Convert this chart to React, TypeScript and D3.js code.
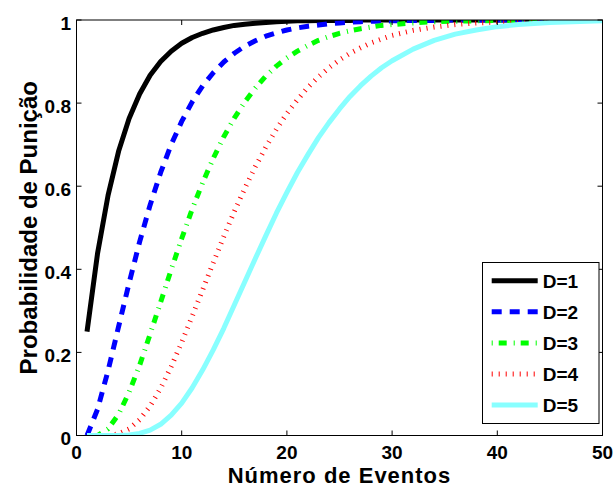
import React from "react";
import * as d3 from "d3";

// número de eventos (eixo x)
const eventos = [
  1, 2, 3, 4, 5, 6, 7, 8, 9, 10, 11, 12, 13, 14, 15, 16, 17, 18, 19, 20,
  21, 22, 23, 24, 25, 26, 27, 28, 29, 30, 32, 34, 36, 38, 40, 42, 45, 50,
];

const d1 = [
  0.25, 0.438, 0.578, 0.684, 0.763, 0.822, 0.867, 0.9, 0.925, 0.944, 0.958, 0.968, 0.976, 0.982, 0.987, 0.99, 0.992, 0.994, 0.996, 0.997,
  0.998, 0.998, 0.999, 0.999, 0.999, 0.999, 1, 1, 1, 1, 1, 1, 1, 1, 1, 1, 1, 1,
];
const d2 = [
  0, 0.063, 0.156, 0.262, 0.367, 0.466, 0.555, 0.633, 0.7, 0.756, 0.803, 0.842, 0.873, 0.899, 0.92, 0.937, 0.95, 0.961, 0.969, 0.976,
  0.981, 0.985, 0.988, 0.991, 0.993, 0.995, 0.996, 0.997, 0.997, 0.998, 0.999, 0.999, 1, 1, 1, 1, 1, 1,
];
const d3v = [
  0, 0, 0.016, 0.051, 0.104, 0.169, 0.244, 0.321, 0.399, 0.474, 0.545, 0.609, 0.667, 0.719, 0.764, 0.803, 0.836, 0.865, 0.889, 0.909,
  0.925, 0.939, 0.951, 0.96, 0.968, 0.974, 0.979, 0.983, 0.987, 0.989, 0.993, 0.996, 0.997, 0.998, 0.999, 0.999, 1, 1,
];
const d4 = [
  0, 0, 0, 0.004, 0.016, 0.038, 0.071, 0.114, 0.166, 0.224, 0.287, 0.351, 0.416, 0.479, 0.539, 0.595, 0.647, 0.694, 0.737, 0.775,
  0.808, 0.838, 0.863, 0.885, 0.904, 0.92, 0.933, 0.945, 0.954, 0.963, 0.975, 0.983, 0.989, 0.993, 0.995, 0.997, 0.998, 1,
];
const d5 = [
  0, 0, 0, 0, 0.001, 0.005, 0.013, 0.027, 0.049, 0.078, 0.115, 0.158, 0.206, 0.258, 0.314, 0.37, 0.426, 0.481, 0.535, 0.585,
  0.633, 0.676, 0.717, 0.753, 0.786, 0.816, 0.842, 0.865, 0.885, 0.902, 0.93, 0.951, 0.966, 0.976, 0.984, 0.989, 0.994, 0.998,
];

const nomes = ["D=1", "D=2", "D=3", "D=4", "D=5"];
const xTicks = [0, 10, 20, 30, 40, 50];
const yTicks = [0, 0.2, 0.4, 0.6, 0.8, 1];

const estilos = [
  { cor: "#000000", dash: null },
  { cor: "#0000ff", dash: "10 8" },
  { cor: "#00ff00", dash: "1 6 8 7" },
  { cor: "#ff0000", dash: "1 6" },
  { cor: "#88ffff", dash: null },
];

const W = 614;
const H = 488;
const left = 76.5, right = 602.5, top = 20, bottom = 435.5;
const font = "'Liberation Sans', Arial, Helvetica, sans-serif";

export default function App() {
  const x = d3.scaleLinear().domain([0, 50]).range([left, right]);
  const y = d3.scaleLinear().domain([0, 1]).range([bottom, top]);
  const series = [d1, d2, d3v, d4, d5];

  const line = d3
    .line<[number, number]>()
    .x((d) => x(d[0]))
    .y((d) => y(d[1]));

  return (
    <svg
      width={W}
      height={H}
      style={{ position: "absolute", left: 0, top: 0, background: "#fff" }}
      fontFamily={font}
      fontWeight="bold"
    >
      <defs>
        <clipPath id="area">
          <rect x={left} y={top} width={right - left} height={bottom - top} />
        </clipPath>
      </defs>
      <rect x={0} y={0} width={W} height={H} fill="#fff" />

      <g clipPath="url(#area)">
        {series.map((vals, i) => (
          <path
            key={i}
            d={line(eventos.map((e, j) => [e, vals[j]] as [number, number])) || ""}
            fill="none"
            stroke={estilos[i].cor}
            strokeWidth={5}
            strokeDasharray={estilos[i].dash || undefined}
            strokeLinejoin="round"
          />
        ))}
      </g>

      {/* caixa dos eixos */}
      <rect x={left} y={top} width={right - left} height={bottom - top} fill="none" stroke="#000" strokeWidth={1} />

      {xTicks.map((t) => (
        <g key={"x" + t}>
          <line x1={x(t)} x2={x(t)} y1={bottom} y2={bottom - 5} stroke="#000" />
          <line x1={x(t)} x2={x(t)} y1={top} y2={top + 5} stroke="#000" />
          <text x={x(t)} y={459} textAnchor="middle" fontSize={19}>
            {t}
          </text>
        </g>
      ))}
      {yTicks.map((t) => (
        <g key={"y" + t}>
          <line x1={left} x2={left + 5} y1={y(t)} y2={y(t)} stroke="#000" />
          <line x1={right} x2={right - 5} y1={y(t)} y2={y(t)} stroke="#000" />
          <text x={71} y={y(t) + 9.5} textAnchor="end" fontSize={19}>
            {String(t)}
          </text>
        </g>
      ))}

      <text x={(left + right) / 2} y={483} textAnchor="middle" fontSize={22} letterSpacing={1}>
        Número de Eventos
      </text>
      <text
        transform={`translate(37, ${(top + bottom) / 2}) rotate(-90)`}
        textAnchor="middle"
        fontSize={24}
      >
        Probabilidade de Punição
      </text>

      {/* legenda */}
      <g>
        <rect x={482.5} y={262.5} width={116.5} height={161} fill="#fff" stroke="#000" strokeWidth={1} />
        {nomes.map((n, i) => {
          const ly = 280.7 + i * 31.1;
          return (
            <g key={n}>
              <line
                x1={491.7}
                x2={537.7}
                y1={ly}
                y2={ly}
                stroke={estilos[i].cor}
                strokeWidth={5}
                strokeDasharray={estilos[i].dash || undefined}
              />
              <text x={542.7} y={ly + 7} fontSize={19}>
                {n}
              </text>
            </g>
          );
        })}
      </g>
    </svg>
  );
}
